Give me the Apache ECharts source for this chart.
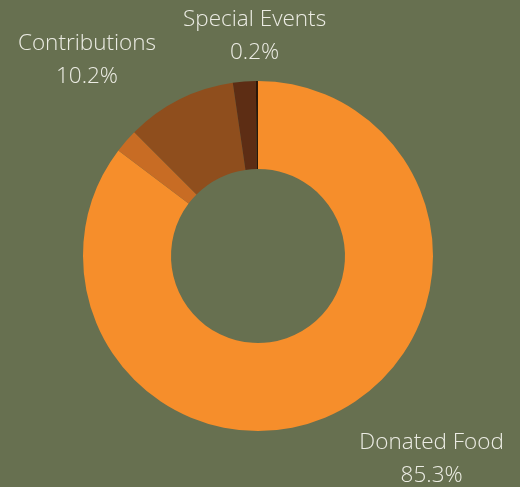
<!DOCTYPE html>
<html>
<head>
<meta charset="utf-8">
<script src="https://cdn.jsdelivr.net/npm/echarts@6/dist/echarts.min.js"></script>
<style>
  html, body { margin: 0; padding: 0; background: #677050; }
  #chart { width: 520px; height: 487px; }
</style>
</head>
<body>
<div id="chart"></div>
<script>
// 数据
var names = ['Donated Food', 'Other Income', 'Contributions', 'Grants', 'Special Events'];
var values = [85.3, 2.2, 10.2, 2.1, 0.2];
var showLabel = [true, false, true, false, true];
var colors = ['#F68E2B', '#C86C24', '#8F4E1D', '#5D2D14', '#2B1708'];

var myChart = echarts.init(document.getElementById('chart'));

var data = names.map(function (n, i) {
  return { name: n, value: values[i], label: { show: showLabel[i] } };
});

var option = {
  backgroundColor: '#677050',
  color: colors,
  series: [{
    type: 'pie',
    center: [258, 256],
    radius: [87, 175],
    startAngle: 90,
    avoidLabelOverlap: false,
    data: data,
    itemStyle: { borderWidth: 0 },
    label: {
      position: 'outside',
      formatter: function (p) { return p.name + '\n' + p.value.toFixed(1) + '%'; },
      color: '#ECECE4',
      fontFamily: 'Open Sans',
      fontWeight: 300,
      fontSize: 22.5,
      lineHeight: 33,
      distanceToLabelLine: 2
    },
    labelLine: { show: false, length: 48, length2: 0 },
    // 标签行居中显示
    labelLayout: function (p) {
      var r = p.labelRect;
      var cx = r.x + r.width / 2;
      if (p.dataIndex === 4) cx = r.x + r.width;
      return { x: cx, dy: 3, align: 'center', hideOverlap: false };
    },
    emphasis: { disabled: true }
  }]
};
myChart.setOption(option);
</script>
</body>
</html>
